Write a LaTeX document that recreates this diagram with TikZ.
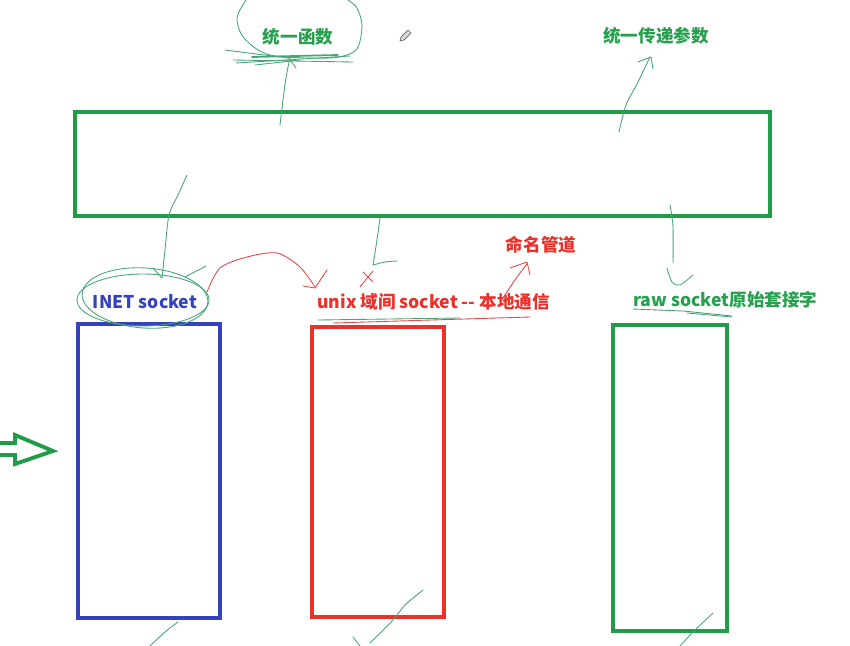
\documentclass[tikz,border=0pt]{standalone}
\usepackage{fontspec}
\setmainfont{Noto Sans CJK SC}
\definecolor{boxgreen}{RGB}{32,155,72}
\definecolor{txtgreen}{RGB}{38,160,78}
\definecolor{boxblue}{RGB}{52,66,188}
\definecolor{boxred}{RGB}{236,48,42}
\definecolor{pengreen}{RGB}{72,165,118}
\definecolor{penred}{RGB}{228,72,72}
\begin{document}
\begin{tikzpicture}[x=0.02cm, y=-0.02cm,
    box/.style={draw, line width=2.3pt, inner sep=0pt},
    hint/.style={font=\bfseries\fontsize{10}{12}\selectfont, inner sep=0pt},
    pen/.style={pengreen, line width=0.5pt, line cap=round, line join=round},
    redpen/.style={penred, line width=0.5pt, line cap=round, line join=round}]
  \useasboundingbox (0,0) rectangle (850,646);

  % boxes
  \node[box, boxgreen, minimum width=13.9cm, minimum height=2.08cm] (api)  at (422.5,164) {};
  \node[box, boxblue,  minimum width=2.84cm, minimum height=5.88cm] (inetbox) at (149,471) {};
  \node[box, boxred,   minimum width=2.64cm, minimum height=5.8cm]  (unixbox) at (378,472) {};
  \node[box, boxgreen, minimum width=2.28cm, minimum height=6.12cm] (rawbox)  at (670,478) {};

  % texts
  \node[hint, txtgreen] (func)  at (298,37) {统一函数};
  \node[hint, txtgreen] (param) at (656,36) {统一传递参数};
  \node[hint, boxblue]  (inet)  at (145,302) {INET socket};
  \node[hint, boxred, anchor=west] (unix) at (317,302) {unix\ 域间\ socket\ -{}-\ 本地通信};
  \node[hint, boxred]   (pipe)  at (541,245) {命名管道};
  \node[hint, txtgreen, anchor=west] (raw) at (633,300) {raw socket原始套接字};

  % pencil cursor
  \draw[gray!80!black, line width=0.4pt, fill=gray!30] (400,41) -- (401,37) -- (408,30) -- (411,33) -- (404,40) -- cycle;

  % hollow arrow
  \draw[boxgreen, line width=2.2pt, line join=miter]
    (0,443) -- (15,443) -- (15,435) -- (53,451) -- (15,464) -- (15,455) -- (0,455);

  % scribbles round the top labels
  \draw[pen] plot[smooth] coordinates {(246,0) (237,18) (244,38) (270,55) (330,58) (356,50) (362,26) (357,8) (348,0)};
  \draw[pen] (225,50) -- (288,58);
  \draw[pen] (233,60) -- (353,62);
  \draw[pen] (236,63) -- (350,56);
  \draw[pen, line width=1pt] (252,57) -- (338,55);
  \draw[pen] (255,65) -- (300,60);
  \draw[pen] plot[smooth] coordinates {(280,125) (283,100) (286,78) (290,57)};
  \draw[pen] (288,57) -- (296,68);
  \draw[pen] plot[smooth] coordinates {(619,132) (626,105) (637,84) (650,57)};
  \draw[pen] (638,62) -- (651,57) -- (653,69);

  % INET socket
  \draw[pen] plot[smooth] coordinates {(187,175) (178,195) (169,215) (165,250) (162,278)};
  \draw[pen] (143,300) ellipse [x radius=66, y radius=26];
  \draw[pen, rotate around={-4:(145,298)}] (145,298) ellipse [x radius=63, y radius=30];
  \draw[pen] (185,277) -- (206,266);
  \draw[pen] (153,268) -- (162,278);
  \draw[redpen] plot[smooth] coordinates {(207,292) (220,268) (247,257) (277,253) (300,267) (315,287)};
  \draw[redpen] (303,286) -- (315,288) -- (327,270);

  % unix socket
  \draw[pen] plot[smooth] coordinates {(380,218) (377,240) (373,265)};
  \draw[pen] plot[smooth] coordinates {(373,265) (385,262) (397,261)};
  \draw[redpen] (360,287) -- (373,271);
  \draw[redpen] (363,272) -- (373,282);
  \draw[pen] (318,320) -- (460,318);
  \draw[redpen] (333,323) -- (530,317);
  \draw[redpen] plot[smooth] coordinates {(503,298) (517,277) (527,264)};
  \draw[redpen] (510,268) -- (527,262) -- (530,275);

  % raw socket
  \draw[pen] plot[smooth] coordinates {(670,205) (673,227) (673,263)};
  \draw[pen] plot[smooth] coordinates {(667,268) (672,282) (680,285) (693,275)};
  \draw[pen] (633,309) -- (683,311) -- (732,316);
  \draw[pen] (687,313) -- (732,317);

  % strokes below the boxes
  \draw[pen] plot[smooth] coordinates {(178,622) (165,632) (150,646)};
  \draw[pen] plot[smooth] coordinates {(423,590) (405,605) (393,620) (370,643)};
  \draw[pen] (353,637) -- (360,646);
  \draw[pen] plot[smooth] coordinates {(713,613) (695,630) (680,646)};
\end{tikzpicture}
\end{document}
